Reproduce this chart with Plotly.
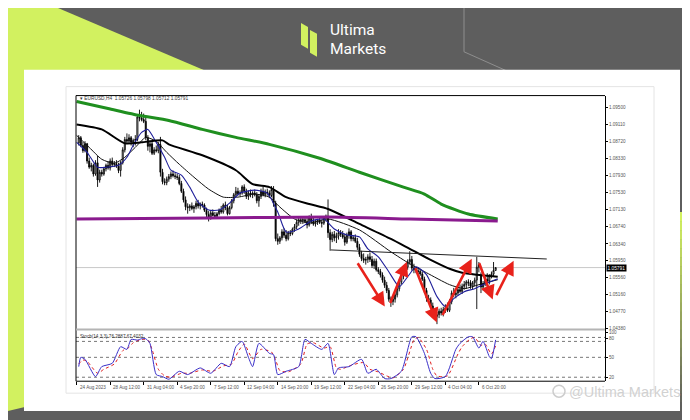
import plotly.graph_objects as go

W, H = 690, 420

# ---------------- data (EURUSD H4) ----------------
bar_open = [
    1.0868, 1.0880, 1.0862, 1.0850, 1.0866, 1.0826,
    1.0812, 1.0816, 1.0796, 1.0822, 1.0782, 1.0800,
    1.0796, 1.0808, 1.0816, 1.0810, 1.0826, 1.0818,
    1.0820, 1.0814, 1.0804, 1.0822, 1.0852, 1.0876,
    1.0872, 1.0880, 1.0870, 1.0874, 1.0876, 1.0928,
    1.0926, 1.0922, 1.0918, 1.0880, 1.0860, 1.0866,
    1.0844, 1.0852, 1.0850, 1.0864, 1.0800, 1.0778,
    1.0776, 1.0784, 1.0790, 1.0796, 1.0792, 1.0790,
    1.0788, 1.0774, 1.0756, 1.0736, 1.0720, 1.0718,
    1.0722, 1.0716, 1.0720, 1.0728, 1.0722, 1.0726,
    1.0724, 1.0712, 1.0702, 1.0696, 1.0706, 1.0700,
    1.0698, 1.0704, 1.0712, 1.0708, 1.0724, 1.0718,
    1.0704, 1.0718, 1.0734, 1.0748, 1.0756, 1.0750,
    1.0752, 1.0766, 1.0756, 1.0744, 1.0752, 1.0748,
    1.0752, 1.0748, 1.0734, 1.0744, 1.0756, 1.0748,
    1.0754, 1.0752, 1.0746, 1.0760, 1.0728, 1.0646,
    1.0640, 1.0648, 1.0662, 1.0654, 1.0646, 1.0660,
    1.0658, 1.0668, 1.0674, 1.0684, 1.0690, 1.0688,
    1.0690, 1.0686, 1.0678, 1.0694, 1.0686, 1.0680,
    1.0684, 1.0688, 1.0684, 1.0682, 1.0694, 1.0698,
    1.0660, 1.0644, 1.0656, 1.0648, 1.0652, 1.0660,
    1.0656, 1.0650, 1.0638, 1.0654, 1.0662, 1.0646,
    1.0648, 1.0640, 1.0626, 1.0610, 1.0600, 1.0596,
    1.0598, 1.0604, 1.0598, 1.0584, 1.0594, 1.0574,
    1.0570, 1.0562, 1.0550, 1.0538, 1.0526, 1.0506,
    1.0500, 1.0506, 1.0516, 1.0530, 1.0546, 1.0562,
    1.0566, 1.0580, 1.0592, 1.0598, 1.0578, 1.0574,
    1.0572, 1.0570, 1.0564, 1.0552, 1.0526, 1.0508,
    1.0504, 1.0490, 1.0476, 1.0466, 1.0470, 1.0478,
    1.0474, 1.0482, 1.0486, 1.0480, 1.0500, 1.0520,
    1.0516, 1.0520, 1.0528, 1.0524, 1.0536, 1.0540,
    1.0546, 1.0544, 1.0536, 1.0544, 1.0550, 1.0580,
    1.0560, 1.0534, 1.0542, 1.0552, 1.0548, 1.0560,
    1.0564, 1.05726,
]
bar_high = [
    1.0886, 1.0884, 1.0870, 1.0872, 1.0868, 1.0834,
    1.0822, 1.0820, 1.0828, 1.0838, 1.0806, 1.0806,
    1.0812, 1.0820, 1.0826, 1.0832, 1.0834, 1.0826,
    1.0828, 1.0822, 1.0826, 1.0858, 1.0882, 1.0890,
    1.0888, 1.0884, 1.0878, 1.0886, 1.0932, 1.0945,
    1.0940, 1.0936, 1.0926, 1.0886, 1.0874, 1.0872,
    1.0858, 1.0862, 1.0870, 1.0882, 1.0808, 1.0786,
    1.0790, 1.0796, 1.0802, 1.0804, 1.0798, 1.0796,
    1.0794, 1.0780, 1.0762, 1.0744, 1.0728, 1.0726,
    1.0730, 1.0724, 1.0734, 1.0736, 1.0730, 1.0732,
    1.0728, 1.0718, 1.0710, 1.0712, 1.0714, 1.0708,
    1.0708, 1.0716, 1.0722, 1.0728, 1.0732, 1.0724,
    1.0722, 1.0738, 1.0752, 1.0766, 1.0764, 1.0758,
    1.0770, 1.0772, 1.0762, 1.0758, 1.0760, 1.0756,
    1.0760, 1.0754, 1.0748, 1.0762, 1.0766, 1.0760,
    1.0762, 1.0758, 1.0768, 1.0768, 1.0734, 1.0658,
    1.0652, 1.0668, 1.0670, 1.0666, 1.0664, 1.0666,
    1.0672, 1.0680, 1.0690, 1.0696, 1.0698, 1.0694,
    1.0698, 1.0694, 1.0700, 1.0704, 1.0694, 1.0690,
    1.0692, 1.0696, 1.0690, 1.0698, 1.0702, 1.0737,
    1.0668, 1.0662, 1.0664, 1.0660, 1.0668, 1.0666,
    1.0664, 1.0658, 1.0660, 1.0670, 1.0666, 1.0654,
    1.0656, 1.0648, 1.0634, 1.0618, 1.0612, 1.0604,
    1.0610, 1.0614, 1.0606, 1.0600, 1.0600, 1.0580,
    1.0576, 1.0568, 1.0558, 1.0546, 1.0532, 1.0512,
    1.0512, 1.0520, 1.0536, 1.0552, 1.0568, 1.0574,
    1.0584, 1.0598, 1.0617, 1.0606, 1.0588, 1.0580,
    1.0580, 1.0576, 1.0570, 1.0558, 1.0532, 1.0516,
    1.0510, 1.0498, 1.0482, 1.0476, 1.0484, 1.0486,
    1.0488, 1.0494, 1.0498, 1.0506, 1.0526, 1.0532,
    1.0526, 1.0534, 1.0540, 1.0542, 1.0548, 1.0550,
    1.0552, 1.0550, 1.0548, 1.0556, 1.0604, 1.0592,
    1.0568, 1.0548, 1.0558, 1.0566, 1.0564, 1.0570,
    1.0592, 1.05798,
]
bar_low = [
    1.0862, 1.0858, 1.0845, 1.0846, 1.0820, 1.0808,
    1.0802, 1.0790, 1.0792, 1.0766, 1.0776, 1.0790,
    1.0792, 1.0802, 1.0806, 1.0804, 1.0812, 1.0812,
    1.0810, 1.0798, 1.0790, 1.0818, 1.0846, 1.0866,
    1.0866, 1.0862, 1.0858, 1.0862, 1.0872, 1.0918,
    1.0918, 1.0914, 1.0874, 1.0850, 1.0846, 1.0840,
    1.0840, 1.0846, 1.0844, 1.0790, 1.0772, 1.0770,
    1.0770, 1.0778, 1.0784, 1.0788, 1.0784, 1.0782,
    1.0770, 1.0752, 1.0730, 1.0712, 1.0704, 1.0710,
    1.0712, 1.0706, 1.0714, 1.0716, 1.0714, 1.0718,
    1.0708, 1.0696, 1.0686, 1.0690, 1.0698, 1.0694,
    1.0692, 1.0700, 1.0704, 1.0704, 1.0712, 1.0700,
    1.0702, 1.0714, 1.0728, 1.0742, 1.0746, 1.0744,
    1.0748, 1.0750, 1.0738, 1.0736, 1.0742, 1.0740,
    1.0744, 1.0728, 1.0720, 1.0738, 1.0744, 1.0742,
    1.0746, 1.0740, 1.0742, 1.0720, 1.0640, 1.0632,
    1.0634, 1.0642, 1.0648, 1.0640, 1.0642, 1.0652,
    1.0654, 1.0662, 1.0668, 1.0676, 1.0680, 1.0680,
    1.0682, 1.0670, 1.0674, 1.0680, 1.0676, 1.0674,
    1.0678, 1.0680, 1.0672, 1.0678, 1.0686, 1.0648,
    1.0618, 1.0638, 1.0640, 1.0636, 1.0644, 1.0650,
    1.0646, 1.0630, 1.0634, 1.0646, 1.0640, 1.0640,
    1.0636, 1.0620, 1.0604, 1.0594, 1.0590, 1.0586,
    1.0590, 1.0592, 1.0578, 1.0576, 1.0570, 1.0564,
    1.0556, 1.0544, 1.0532, 1.0520, 1.0500, 1.0488,
    1.0492, 1.0498, 1.0510, 1.0524, 1.0540, 1.0552,
    1.0560, 1.0574, 1.0586, 1.0572, 1.0566, 1.0566,
    1.0564, 1.0560, 1.0548, 1.0520, 1.0500, 1.0498,
    1.0486, 1.0470, 1.0458, 1.0448, 1.0462, 1.0468,
    1.0466, 1.0474, 1.0476, 1.0476, 1.0494, 1.0510,
    1.0508, 1.0514, 1.0520, 1.0518, 1.0528, 1.0530,
    1.0536, 1.0530, 1.0528, 1.0536, 1.0483, 1.0568,
    1.0520, 1.0526, 1.0536, 1.0544, 1.0540, 1.0554,
    1.0558, 1.05712,
]
bar_close = [
    1.0880, 1.0862, 1.0850, 1.0866, 1.0826, 1.0812,
    1.0816, 1.0796, 1.0822, 1.0782, 1.0800, 1.0796,
    1.0808, 1.0816, 1.0810, 1.0826, 1.0818, 1.0820,
    1.0814, 1.0804, 1.0822, 1.0852, 1.0876, 1.0872,
    1.0880, 1.0870, 1.0874, 1.0876, 1.0928, 1.0926,
    1.0922, 1.0918, 1.0880, 1.0860, 1.0866, 1.0844,
    1.0852, 1.0850, 1.0864, 1.0800, 1.0778, 1.0776,
    1.0784, 1.0790, 1.0796, 1.0792, 1.0790, 1.0788,
    1.0774, 1.0756, 1.0736, 1.0720, 1.0718, 1.0722,
    1.0716, 1.0720, 1.0728, 1.0722, 1.0726, 1.0724,
    1.0712, 1.0702, 1.0696, 1.0706, 1.0700, 1.0698,
    1.0704, 1.0712, 1.0708, 1.0724, 1.0718, 1.0704,
    1.0718, 1.0734, 1.0748, 1.0756, 1.0750, 1.0752,
    1.0766, 1.0756, 1.0744, 1.0752, 1.0748, 1.0752,
    1.0748, 1.0734, 1.0744, 1.0756, 1.0748, 1.0754,
    1.0752, 1.0746, 1.0760, 1.0728, 1.0646, 1.0640,
    1.0648, 1.0662, 1.0654, 1.0646, 1.0660, 1.0658,
    1.0668, 1.0674, 1.0684, 1.0690, 1.0688, 1.0690,
    1.0686, 1.0678, 1.0694, 1.0686, 1.0680, 1.0684,
    1.0688, 1.0684, 1.0682, 1.0694, 1.0698, 1.0660,
    1.0644, 1.0656, 1.0648, 1.0652, 1.0660, 1.0656,
    1.0650, 1.0638, 1.0654, 1.0662, 1.0646, 1.0648,
    1.0640, 1.0626, 1.0610, 1.0600, 1.0596, 1.0598,
    1.0604, 1.0598, 1.0584, 1.0594, 1.0574, 1.0570,
    1.0562, 1.0550, 1.0538, 1.0526, 1.0506, 1.0500,
    1.0506, 1.0516, 1.0530, 1.0546, 1.0562, 1.0566,
    1.0580, 1.0592, 1.0598, 1.0578, 1.0574, 1.0572,
    1.0570, 1.0564, 1.0552, 1.0526, 1.0508, 1.0504,
    1.0490, 1.0476, 1.0466, 1.0470, 1.0478, 1.0474,
    1.0482, 1.0486, 1.0480, 1.0500, 1.0520, 1.0516,
    1.0520, 1.0528, 1.0524, 1.0536, 1.0540, 1.0546,
    1.0544, 1.0536, 1.0544, 1.0550, 1.0580, 1.0586,
    1.0534, 1.0542, 1.0552, 1.0548, 1.0560, 1.0564,
    1.05726, 1.05791,
]
bar_index = list(range(len(bar_close)))

# moving averages (bar position, price)
ma_green_x = [-1, 14, 29, 43, 59, 75, 91, 115, 134, 155, 165, 173, 186, 200]
ma_green_y = [1.09638, 1.09477, 1.09315, 1.09200, 1.08993, 1.08808, 1.08647,
              1.08324, 1.08001, 1.07655, 1.07494, 1.07263, 1.07032, 1.06917]
ma_purple_x = [-1, 62, 119, 158, 200]
ma_purple_y = [1.06917, 1.06940, 1.06963, 1.06917, 1.06871]
ma_thick_x = [-1, 11, 22, 30, 40, 43, 59, 75, 83, 91, 99, 110, 119, 134, 149,
              158, 167, 177, 183, 190, 200]
ma_thick_y = [1.09108, 1.08993, 1.08670, 1.08693, 1.08739, 1.08647, 1.08393,
              1.08047, 1.07724, 1.07655, 1.07424, 1.07263, 1.07148, 1.06802,
              1.06456, 1.06225, 1.05994, 1.05764, 1.05672, 1.05626, 1.05579]
ma_thin_x = [-1, 5, 11, 17, 22, 27, 32, 37, 42, 48, 55, 62, 69, 76, 84, 91,
             96, 103, 110, 119, 134, 149, 158, 166, 177, 184, 191, 200]
ma_thin_y = [1.08854, 1.08577, 1.08301, 1.08208, 1.08347, 1.08577, 1.08808,
             1.08716, 1.08462, 1.08185, 1.07886, 1.07609, 1.07424, 1.07424,
             1.07494, 1.07424, 1.07194, 1.06917, 1.06825, 1.06917, 1.06663,
             1.06156, 1.05879, 1.05672, 1.05395, 1.05303, 1.05395, 1.05510]
ma_navy_x = [-1, 4, 9, 13, 19, 23, 26, 30, 33, 37, 41, 44, 49, 53, 57, 62, 67,
             72, 77, 84, 90, 95, 99, 105, 111, 117, 122, 128, 134, 138, 143,
             148, 153, 157, 161, 166, 171, 175, 179, 184, 189, 193, 200]
ma_navy_y = [1.08693, 1.08462, 1.08116, 1.08116, 1.08162, 1.08347, 1.08624,
             1.08923, 1.08993, 1.08693, 1.08347, 1.08047, 1.07932, 1.07655,
             1.07309, 1.07125, 1.07125, 1.07286, 1.07517, 1.07586, 1.07517,
             1.07079, 1.06617, 1.06686, 1.06871, 1.06917, 1.06686, 1.06548,
             1.06502, 1.06225, 1.06041, 1.05695, 1.05349, 1.05579, 1.05810,
             1.05626, 1.05118, 1.04888, 1.05072, 1.05233, 1.05303, 1.05395,
             1.05533]

# trend line (neckline)
neck_x = [120.3, 223.4]
neck_y = [1.0620, 1.0599]

# red arrows: (tail bar, tail price) -> (head bar, head price)
arrow_tail_x = [132.7, 148.4, 160.4, 173.3, 190.9, 199.0]
arrow_tail_y = [1.05925, 1.04934, 1.05810, 1.04657, 1.05925, 1.05118]
arrow_head_x = [146.1, 156.6, 170.9, 187.6, 197.6, 207.6]
arrow_head_y = [1.04888, 1.05925, 1.04518, 1.05994, 1.05049, 1.05948]

# stochastic
stoch_main_x = [0, 1, 3, 8, 11, 16, 20, 23, 25, 28, 30, 32, 34, 37, 40, 43, 48,
                52, 58, 63, 68, 72, 75, 78, 81, 83, 86, 91, 93, 95, 99, 105,
                108, 111, 116, 119, 122, 124, 129, 135, 138, 142, 146, 149,
                154, 159, 161, 165, 168, 170, 175, 180, 182, 186, 188, 191,
                193, 196, 197, 199]
stoch_main_y = [36, 50, 47, 21, 36, 41, 66, 62, 77, 76, 78, 78, 71, 24, 21, 17,
                29, 24, 34, 26, 41, 36, 66, 74, 50, 36, 71, 56, 54, 24, 29, 36,
                77, 71, 62, 71, 24, 34, 36, 47, 26, 32, 18, 18, 29, 81, 81, 56,
                26, 18, 21, 62, 71, 81, 81, 64, 74, 51, 48, 76.2887]
stoch_sig_x = [0, 2, 4, 9, 12, 17, 21, 24, 26, 29, 31, 33, 35, 38, 41, 44, 49,
               53, 59, 64, 69, 73, 76, 79, 83, 87, 92, 94, 96, 100, 106, 109,
               112, 117, 120, 123, 125, 130, 136, 139, 143, 147, 150, 155, 160,
               162, 166, 169, 171, 176, 181, 183, 187, 189, 192, 194, 197, 199]
stoch_sig_y = [40, 46, 44, 26, 32, 40, 60, 65, 72, 76, 77, 76, 62, 32, 22, 20,
               26, 26, 31, 29, 37, 40, 58, 70, 48, 62, 58, 46, 30, 28, 40, 70,
               72, 64, 66, 34, 32, 38, 42, 32, 28, 22, 19, 32, 76, 80, 62, 32,
               22, 22, 55, 66, 78, 80, 68, 70, 55, 67.4032]
stoch_levels = [80, 74, 50, 20]
stoch_tick_vals = [87, 79, 50, 20]
stoch_tick_text = ["100", "80", "50", "20"]

price_tick_vals = [1.0950, 1.0911, 1.0872, 1.0833, 1.0793, 1.0753, 1.0713,
                   1.0674, 1.0634, 1.0595, 1.0556, 1.0516, 1.0477, 1.0438]
price_tick_text = ["1.09500", "1.09110", "1.08720", "1.08330", "1.07930",
                   "1.07530", "1.07130", "1.06740", "1.06340", "1.05950",
                   "1.05560", "1.05160", "1.04770", "1.04380"]
bid_price = 1.05791

time_tick_bars = [-1, 15, 31, 47, 63, 79, 95, 111, 127, 143, 159, 175, 191]
time_tick_text = ["24 Aug 2023", "28 Aug 12:00", "31 Aug 04:00", "4 Sep 20:00",
                  "7 Sep 12:00", "12 Sep 04:00", "14 Sep 20:00", "19 Sep 12:00",
                  "22 Sep 04:00", "26 Sep 20:00", "29 Sep 12:00", "4 Oct 04:00",
                  "6 Oct 20:00"]

# ---------------- helpers (pixel -> paper) ----------------
def px(x):
    return x / W


def py(y):
    return 1 - y / H


def path(points, close=True):
    s = "M " + " L ".join(f"{px(a):.5f},{py(b):.5f}" for a, b in points)
    return s + (" Z" if close else "")


LIME = "#d2f160"
BG = "#5e5e5e"
SMALL = dict(family="Liberation Sans, Arial", size=4.6, color="#555")
XRANGE = [-1.3, 251.2]

# chart frame (pixels)
CL, CR, CT, CM, CB = 68, 597, 88, 323, 375

fig = go.Figure()

fig.add_trace(go.Candlestick(
    x=bar_index, open=bar_open, high=bar_high, low=bar_low, close=bar_close,
    increasing=dict(line=dict(color="black", width=0.9), fillcolor="white"),
    decreasing=dict(line=dict(color="black", width=0.9), fillcolor="black"),
    whiskerwidth=0, hoverinfo="skip", xaxis="x", yaxis="y"))


def line_trace(xs, ys, color, width, dash="solid", xa="x", ya="y"):
    fig.add_trace(go.Scatter(x=xs, y=ys, mode="lines",
                             line=dict(color=color, width=width, dash=dash,
                                       shape="spline", smoothing=0.6),
                             hoverinfo="skip", xaxis=xa, yaxis=ya))


line_trace(ma_thin_x, ma_thin_y, "#111111", 1.0)
line_trace(ma_navy_x, ma_navy_y, "#1f1f9a", 1.1)
line_trace(ma_thick_x, ma_thick_y, "#000000", 2.0)
line_trace(ma_green_x, ma_green_y, "#1f8f1f", 3.0)
line_trace(ma_purple_x, ma_purple_y, "#8a1a8e", 3.0)
fig.add_trace(go.Scatter(x=neck_x, y=neck_y, mode="lines",
                         line=dict(color="#222", width=1), hoverinfo="skip"))

line_trace(stoch_sig_x, stoch_sig_y, "#e02020", 1.0, "dot", "x2", "y2")
line_trace(stoch_main_x, stoch_main_y, "#3a2fc8", 1.0, "solid", "x2", "y2")

shapes = []
# lime triangle top-left
shapes.append(dict(type="path", xref="paper", yref="paper", layer="below",
                   path=path([(0, 0), (50, 0), (640, 252), (0, 405)]),
                   fillcolor=LIME, line=dict(width=0)))
# right strip gradient
n = 22
y0s, y1s = 205, 405
for k in range(n):
    t = k / (n - 1)
    r = int(210 + (95 - 210) * t)
    g = int(241 + (95 - 241) * t)
    b = int(96 + (92 - 96) * t)
    ya = y0s + (y1s - y0s) * k / n
    yb = y0s + (y1s - y0s) * (k + 1) / n
    shapes.append(dict(type="rect", xref="paper", yref="paper", layer="below",
                       x0=px(670), x1=px(690), y0=py(yb + 0.5), y1=py(ya),
                       fillcolor=f"rgb({r},{g},{b})", line=dict(width=0)))
# decorative thin lines
shapes.append(dict(type="path", xref="paper", yref="paper", layer="below",
                   path=path([(456, 0), (456, 44), (545, 84)], close=False),
                   line=dict(color="#8e8e8e", width=1)))
shapes.append(dict(type="path", xref="paper", yref="paper", layer="below",
                   path=path([(678, 0), (678, 110), (690, 116)], close=False),
                   line=dict(color="#8e8e8e", width=1)))
# white panel
shapes.append(dict(type="rect", xref="paper", yref="paper", layer="below",
                   x0=px(16), x1=px(672), y0=py(405), y1=py(62),
                   fillcolor="white", line=dict(width=0)))
# faint screenshot frame
shapes.append(dict(type="rect", xref="paper", yref="paper", layer="below",
                   x0=px(58), x1=px(646), y0=py(387), y1=py(79),
                   fillcolor="rgba(0,0,0,0)", line=dict(color="#e4e4e4", width=1)))
# logo icon
shapes.append(dict(type="path", xref="paper", yref="paper",
                   path=path([(293, 15), (300, 19), (300, 41), (293, 37)]),
                   fillcolor=LIME, line=dict(width=0)))
shapes.append(dict(type="path", xref="paper", yref="paper",
                   path=path([(302, 22), (309, 26), (309, 49), (302, 45)]),
                   fillcolor=LIME, line=dict(width=0)))
# chart frame lines
for (x0, y0, x1, y1, c, w) in [(CL, CT, CL, CB, "black", 1),
                               (CL, CT, CR, CT, "black", 1),
                               (CL, CM, CR, CM, "#b4b4b4", 2),
                               (CL, CB, CR, CB, "black", 1)]:
    shapes.append(dict(type="line", xref="paper", yref="paper",
                       x0=px(x0), x1=px(x1), y0=py(y0), y1=py(y1),
                       line=dict(color=c, width=w)))
# bid line
shapes.append(dict(type="line", xref="x domain", yref="y", layer="below",
                   x0=0, x1=1, y0=bid_price, y1=bid_price,
                   line=dict(color="#c8c8c8", width=1)))
# stochastic levels
for lv in stoch_levels:
    shapes.append(dict(type="line", xref="x2 domain", yref="y2", layer="below",
                       x0=0, x1=1, y0=lv, y1=lv,
                       line=dict(color="#777", width=1, dash="dot")))
# watermark icon
shapes.append(dict(type="circle", xref="paper", yref="paper",
                   x0=px(545), x1=px(557), y0=py(391), y1=py(379),
                   line=dict(color="rgba(200,200,200,0.9)", width=1.5)))

ann = []
# logo text
ann.append(dict(xref="paper", yref="paper", x=px(320), y=py(22), text="Ultima",
                showarrow=False, xanchor="left", yanchor="middle",
                font=dict(family="Roboto, Inter", size=15.5, color="white")))
ann.append(dict(xref="paper", yref="paper", x=px(320), y=py(41), text="Markets",
                showarrow=False, xanchor="left", yanchor="middle",
                font=dict(family="Roboto, Inter", size=15.5, color="white")))
# chart header
hdr = (f"▾ EURUSD,H4  {bar_open[-1]:.5f} {bar_high[-1]:.5f} "
       f"{bar_low[-1]:.5f} {bar_close[-1]:.5f}")
ann.append(dict(xref="paper", yref="paper", x=px(70), y=py(91), text=hdr,
                showarrow=False, xanchor="left", yanchor="middle",
                font=dict(family="Liberation Sans, Arial", size=4.8, color="#333")))
ann.append(dict(xref="paper", yref="paper", x=px(70), y=py(330),
                text=f"Stoch(14,3,3) {stoch_main_y[-1]:.4f} {stoch_sig_y[-1]:.4f}",
                showarrow=False, xanchor="left", yanchor="middle",
                font=dict(family="Liberation Sans, Arial", size=4.6, color="#333")))
# bid label
ann.append(dict(xref="paper", yref="y", x=px(598), y=bid_price,
                text=f"{bid_price:.5f}", showarrow=False, xanchor="left",
                yanchor="middle", bgcolor="black", borderpad=0.5,
                font=dict(family="Liberation Sans, Arial", size=4.8, color="white")))
# time labels
for b, t in zip(time_tick_bars, time_tick_text):
    ann.append(dict(xref="x2", yref="paper", x=b, y=py(381), text=t,
                    showarrow=False, xanchor="left", yanchor="middle", xshift=1,
                    font=SMALL))
# red arrows
for tx, ty, hx, hy in zip(arrow_tail_x, arrow_tail_y, arrow_head_x, arrow_head_y):
    ann.append(dict(xref="x", yref="y", axref="x", ayref="y", x=hx, y=hy,
                    ax=tx, ay=ty, text="", showarrow=True, arrowhead=2,
                    arrowsize=1.1, arrowwidth=2.6, arrowcolor="#e8221b",
                    standoff=0))
# watermark
ann.append(dict(xref="paper", yref="paper", x=px(559), y=py(386),
                text="@Ultima Markets", showarrow=False, xanchor="left",
                yanchor="middle",
                font=dict(family="Liberation Sans, Arial", size=14.5,
                          color="rgba(205,205,205,0.92)")))

fig.update_layout(
    width=W, height=H, margin=dict(l=0, r=0, t=0, b=0),
    paper_bgcolor=BG, plot_bgcolor="rgba(0,0,0,0)", showlegend=False,
    shapes=shapes, annotations=ann,
    xaxis=dict(domain=[px(CL), px(CR)], range=XRANGE, anchor="y",
               showgrid=False, zeroline=False, showticklabels=False,
               showline=False, rangeslider=dict(visible=False), fixedrange=True),
    yaxis=dict(domain=[py(CM), py(CT)], range=[1.04357, 1.09777], anchor="x",
               side="right", tickvals=price_tick_vals, ticktext=price_tick_text,
               ticks="outside", ticklen=2, tickcolor="black", showline=True,
               linecolor="black", linewidth=1, showgrid=False, zeroline=False,
               tickfont=SMALL, fixedrange=True),
    xaxis2=dict(domain=[px(CL), px(CR)], range=XRANGE, anchor="y2",
                showgrid=False, zeroline=False, showticklabels=False,
                showline=False, ticks="outside", ticklen=3, tickcolor="black",
                tickvals=time_tick_bars, fixedrange=True),
    yaxis2=dict(domain=[py(CB), py(CM)], range=[14, 92], anchor="x2",
                side="right", tickvals=stoch_tick_vals, ticktext=stoch_tick_text,
                ticks="outside", ticklen=2, tickcolor="black", showline=True,
                linecolor="black", linewidth=1, showgrid=False, zeroline=False,
                tickfont=SMALL, fixedrange=True),
)

fig.write_html("out.html")
